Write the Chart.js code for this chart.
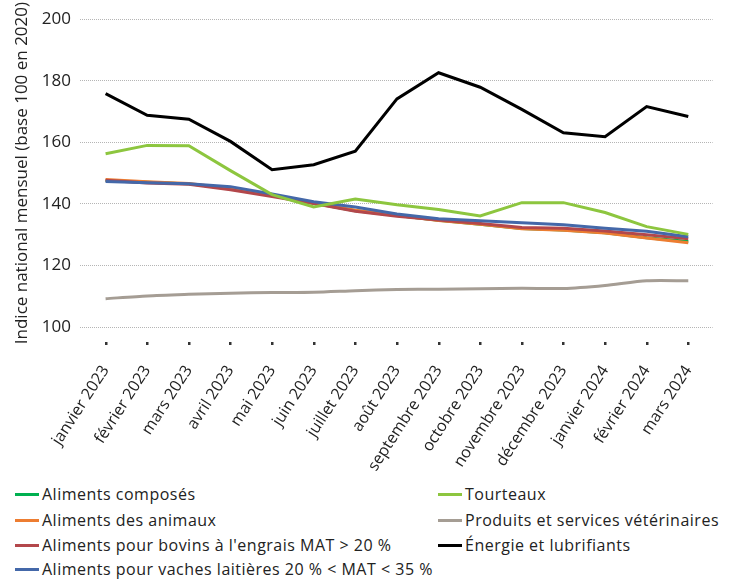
<!DOCTYPE html>
<html lang="fr">
<head>
<meta charset="utf-8">
<script src="https://cdn.jsdelivr.net/npm/chart.js@4.4.1/dist/chart.umd.min.js"></script>
<style>
  html, body { margin: 0; padding: 0; background: #fff; }
  #wrap { position: relative; width: 732px; height: 583px; overflow: hidden; }
  #c { position: absolute; left: 0; top: 0; }
  #legend { position: absolute; left: 0; top: 482px; width: 732px; height: 100px;
            font-family: "Open Sans", sans-serif; font-size: 16px; color: #222; letter-spacing: 0.5px; }
  .item { position: absolute; height: 24px; line-height: 24px; white-space: nowrap; }
  .swatch { position: absolute; left: 0; top: 11px; width: 24px; height: 3px; }
  .lbl { position: absolute; left: 27px; top: 0; }
</style>
</head>
<body>
<div id="wrap">
  <canvas id="c" width="732" height="480"></canvas>
  <div id="legend"></div>
</div>
<script>
// ---- Data ----
const months = ["janvier 2023","février 2023","mars 2023","avril 2023","mai 2023","juin 2023",
  "juillet 2023","août 2023","septembre 2023","octobre 2023","novembre 2023","décembre 2023",
  "janvier 2024","février 2024","mars 2024"];

const alimentsComposes = [147.6,147.0,146.5,144.9,142.6,140.2,137.8,136.2,134.7,133.4,132.0,131.5,130.6,129.0,127.8];
const alimentsAnimaux  = [147.9,147.2,146.6,145.0,142.7,140.3,137.9,136.3,134.6,133.4,131.9,131.4,130.5,128.9,127.4];
const alimentsBovins   = [147.7,146.8,146.4,144.6,142.4,140.1,137.6,136.0,134.8,133.6,132.3,132.1,131.2,130.0,128.7];
const alimentsVaches   = [147.3,146.9,146.5,145.6,143.2,140.7,139.0,136.7,135.2,134.5,133.9,133.2,132.1,131.1,129.3];
const tourteaux        = [156.3,159.0,158.9,150.8,143.0,139.0,141.6,139.7,138.2,136.1,140.4,140.4,137.2,132.6,130.1];
const produitsVeto     = [109.2,110.1,110.6,111.0,111.2,111.3,111.8,112.2,112.3,112.4,112.6,112.5,113.5,115.0,115.0];
const energie          = [175.8,168.8,167.5,160.3,151.1,152.7,157.1,174.1,182.6,177.9,170.7,163.1,161.8,171.6,168.4];

const yTicks = [100,120,140,160,180,200];
const yTitle = "Indice national mensuel (base 100 en 2020)";

const seriesNames  = ["Aliments composés","Aliments des animaux","Aliments pour bovins à l'engrais MAT > 20 %",
  "Aliments pour vaches laitières 20 % < MAT < 35 %","Tourteaux","Produits et services vétérinaires","Énergie et lubrifiants"];
const seriesValues = [alimentsComposes, alimentsAnimaux, alimentsBovins, alimentsVaches, tourteaux, produitsVeto, energie];
const seriesColors = ["#00b050","#ed7d31","#b3474b","#4468a9","#8dc63f","#a59d94","#000000"];

// ---- Chart ----
const datasets = seriesNames.map((name, i) => ({
  label: name,
  data: seriesValues[i].map((v, k) => ({ x: k, y: v })),
  borderColor: seriesColors[i],
  backgroundColor: seriesColors[i],
  borderWidth: 3,
  pointRadius: 0,
  tension: i === 5 ? 0.25 : 0,
  fill: false,
  order: seriesNames.length - i
}));

// small tick marks below the plot, placed through the x scale
const tickMarks = {
  id: "tickMarks",
  afterDraw(chart) {
    const xs = chart.scales.x, ctx = chart.ctx, b = chart.chartArea.bottom;
    ctx.save();
    ctx.fillStyle = "#333";
    xs.ticks.forEach(t => {
      const px = xs.getPixelForValue(t.value);
      ctx.fillRect(Math.round(px) - 1, b + 15, 2.5, 3);
    });
    ctx.restore();
  }
};

new Chart(document.getElementById("c"), {
  type: "line",
  data: { datasets },
  plugins: [tickMarks],
  options: {
    responsive: false,
    animation: false,
    layout: { padding: { top: 10, right: 16, left: 0, bottom: 0 } },
    plugins: { legend: { display: false }, tooltip: { enabled: false } },
    scales: {
      x: {
        type: "linear",
        min: -0.615,
        max: months.length - 1 + 0.585,
        afterBuildTicks: s => { s.ticks = months.map((_, i) => ({ value: i })); },
        afterFit: s => { s.height = 153; },
        border: { display: false },
        grid: { display: false },
        ticks: {
          autoSkip: false, maxRotation: 57, minRotation: 57, padding: 27,
          color: "#222", font: { family: "'Open Sans', sans-serif", size: 16 },
          callback: v => months[v]
        }
      },
      y: {
        min: 100, max: 200,
        afterBuildTicks: s => { s.ticks = yTicks.map(v => ({ value: v })); },
        afterFit: s => { s.width = 80; },
        border: { display: false, dash: [1, 1] },
        grid: { color: "#b5b5b5", lineWidth: 1, drawTicks: false },
        ticks: { padding: 9, color: "#222", font: { family: "'Open Sans', sans-serif", size: 17 } },
        title: { display: true, text: yTitle, color: "#222",
                 font: { family: "'Open Sans', sans-serif", size: 17 }, padding: { top: 12, bottom: 0 } }
      }
    }
  }
});

// ---- Legend (two columns, as in the reference) ----
const legend = document.getElementById("legend");
const cols = [[0,1,2,3],[4,5,6]];
const colX = [15, 438];
const rowY = [0, 25.5, 51, 75];
cols.forEach((col, ci) => col.forEach((idx, ri) => {
  const d = document.createElement("div");
  d.className = "item";
  d.style.left = colX[ci] + "px";
  d.style.top = rowY[ri] + "px";
  const sw = document.createElement("span");
  sw.className = "swatch";
  sw.style.background = seriesColors[idx];
  const t = document.createElement("span");
  t.className = "lbl";
  t.textContent = seriesNames[idx];
  d.appendChild(sw); d.appendChild(t);
  legend.appendChild(d);
}));
</script>
</body>
</html>
